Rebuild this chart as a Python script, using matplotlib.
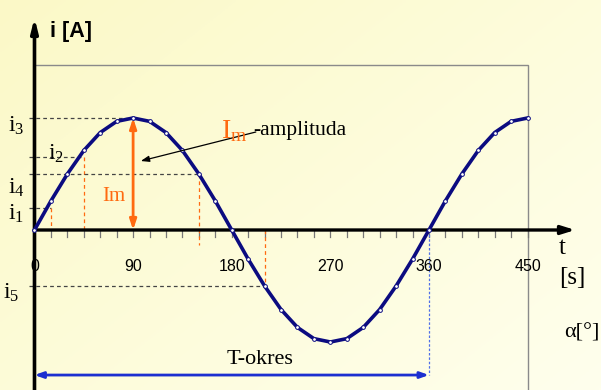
import numpy as np
import matplotlib
matplotlib.use("Agg")
import matplotlib.pyplot as plt
from matplotlib import font_manager
from matplotlib.patches import Rectangle

# sine wave, one marker every 15 degrees
alpha = [0, 15, 30, 45, 60, 75, 90, 105, 120, 135, 150, 165, 180, 195, 210, 225,
         240, 255, 270, 285, 300, 315, 330, 345, 360, 375, 390, 405, 420, 435, 450]
current = [0, 0.26, 0.5, 0.71, 0.87, 0.97, 1.0, 0.97, 0.87, 0.71, 0.5, 0.26, 0,
           -0.26, -0.5, -0.71, -0.87, -0.97, -1.0, -0.97, -0.87, -0.71, -0.5, -0.26,
           0, 0.26, 0.5, 0.71, 0.87, 0.97, 1.0]

tick_vals = [0, 90, 180, 270, 360, 450]
minor_ticks = list(range(0, 451, 15))

# instantaneous values marked on the chart
i_names = ["i1", "i2", "i3", "i4", "i5"]
i_angles = [15, 45, 90, 150, 210]
i_levels = [0.2, 0.65, 1.0, 0.5, -0.5]
period = 360

names = {f.name for f in font_manager.fontManager.ttflist}
narrow = "Liberation Sans Narrow" if "Liberation Sans Narrow" in names else "Liberation Sans"
serif = "Liberation Serif"
plt.rcParams["mathtext.fontset"] = "custom"
plt.rcParams["mathtext.rm"] = serif
plt.rcParams["mathtext.it"] = serif + ":italic"

navy = "#0b0b80"
orange = "#ff6a10"
blue = "#1c2fd0"

fig = plt.figure(figsize=(6.01, 3.90), dpi=100)

# light yellow background gradient
bg = fig.add_axes([0, 0, 1, 1])
gx, gy = np.meshgrid(np.linspace(0, 1, 200), np.linspace(0, 1, 130))
g = np.clip(0.55 * gx + 0.45 * gy, 0, 1)
c0 = np.array([0.985, 0.975, 0.78])
c1 = np.array([1.0, 1.0, 0.93])
img = c0[None, None, :] * (1 - g[..., None]) + c1[None, None, :] * g[..., None]
bg.imshow(img, aspect="auto", extent=[0, 1, 0, 1])
bg.axis("off")

ax = fig.add_axes([0, 0, 1, 1])
ax.patch.set_alpha(0)
ax.axis("off")
ax.set_xlim(-31.48, 517.0)
ax.set_ylim(-1.4286, 2.0536)

# gray frame
ax.add_patch(Rectangle((0, -1.7), 450, 1.7 + 1.473, fill=False, ec="#8a8a8a", lw=1.0, zorder=1))

# ticks along the time axis
for t in minor_ticks:
    ax.plot([t, t], [0, -0.065], color="#777777", lw=0.9, zorder=2)
for t in tick_vals:
    ax.text(t, -0.33, str(t), ha="center", va="center", fontsize=11.5, family=narrow, zorder=5)

# dashed helper lines
for name, a, lev in zip(i_names, i_angles, i_levels):
    ax.plot([-5, a], [lev, lev], ls=(0, (3, 2.5)), color="#444444", lw=0.9, zorder=2)
    if a != 90:
        if lev > 0:
            lo = -0.13 if a == 150 else 0
            ax.plot([a, a], [lev, lo], ls=(0, (3, 2.5)), color=orange, lw=0.9, zorder=2)
        else:
            ax.plot([a, a], [0, lev], ls=(0, (3, 2.5)), color=orange, lw=0.9, zorder=2)
ax.plot([period, period], [0, -1.295], ls=(0, (2, 1.5)), color="#4f6fe8", lw=0.9, zorder=2)

# axes with arrows
ax.annotate("", xy=(496, 0), xytext=(0, 0),
            arrowprops=dict(arrowstyle="-|>,head_length=0.8,head_width=0.25", color="black", lw=2.4), zorder=4)
ax.annotate("", xy=(0, 1.92), xytext=(0, -1.6),
            arrowprops=dict(arrowstyle="-|>,head_length=0.8,head_width=0.2", color="black", lw=2.6), zorder=4)

# sine curve
ax.plot(alpha, current, color=navy, lw=2.6, marker="o", ms=2.7, mfc="white", mec=navy, mew=0.7, zorder=6)

# amplitude arrow
ax.annotate("", xy=(90, 1.0), xytext=(90, 0),
            arrowprops=dict(arrowstyle="<|-|>,head_length=0.6,head_width=0.2", color=orange, lw=2.0,
                            shrinkA=0, shrinkB=0), zorder=7)
ax.text(72.5, 0.295, "Im", color=orange, fontsize=15, family=serif, ha="center", va="center", zorder=7)

ax.annotate("", xy=(97, 0.616), xytext=(202, 0.875),
            arrowprops=dict(arrowstyle="-|>,head_length=0.5,head_width=0.18", color="black", lw=0.9,
                            shrinkA=0, shrinkB=0), zorder=7)
ax.text(170.2, 0.82, r"$\mathrm{I}_{\mathrm{m}}$", color=orange, fontsize=20, ha="left", va="baseline", zorder=8)
ax.text(199.4, 0.884, "-amplituda", color="black", fontsize=15.5, family=serif, ha="left", va="center", zorder=8)

# value labels i1..i5
label_pos = {"i3": (-24.2, 0.9375), "i2": (12.3, 0.6875), "i4": (-24.2, 0.384),
             "i1": (-24.2, 0.152), "i5": (-28.7, -0.554)}
for name in i_names:
    x, y = label_pos[name]
    ax.text(x, y, r"$\mathrm{i}_{%s}$" % name[1], fontsize=17, ha="left", va="center", zorder=8)

# axis names
ax.text(14.1, 1.768, "i [A]", fontsize=15.5, fontweight="bold", family=narrow, ha="left", va="center")
ax.text(481.4, -0.16, "t", fontsize=18, family=serif, ha="center", va="center")
ax.text(490.5, -0.43, "[s]", fontsize=18, family=serif, ha="center", va="center")
ax.text(499.6, -0.92, "α[°]", fontsize=16, family=serif, ha="center", va="center")

# period arrow
ax.annotate("", xy=(period, -1.295), xytext=(0, -1.295),
            arrowprops=dict(arrowstyle="<|-|>,head_length=0.5,head_width=0.18", color=blue, lw=2.0,
                            shrinkA=0, shrinkB=0), zorder=7)
ax.text(205.8, -1.16, "T-okres", fontsize=16, family=serif, ha="center", va="center", zorder=8)

fig.savefig("out.png", dpi=100)
